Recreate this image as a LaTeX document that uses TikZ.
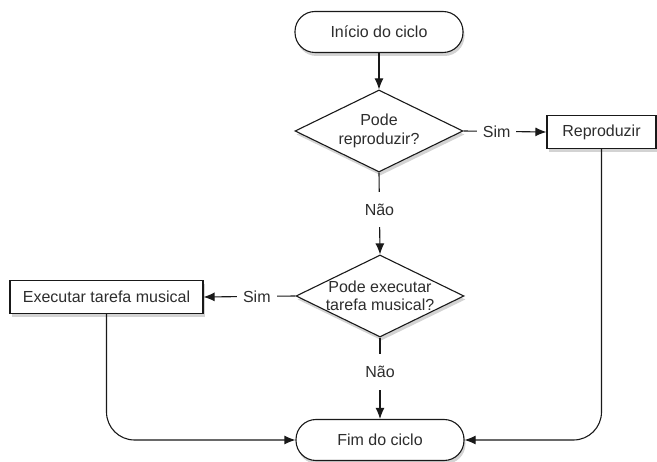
\documentclass[tikz,border=0pt]{standalone}
\usepackage{fontspec}
\setmainfont{Liberation Sans}
\usetikzlibrary{arrows.meta,shapes.geometric,shadows}
\definecolor{T}{RGB}{45, 45, 45}
\definecolor{L}{RGB}{25, 25, 25}
\tikzset{
  base/.style={draw=L, line width=1.1pt, fill=white, text=T,
    font=\fontsize{16}{18.5}\selectfont,
    drop shadow={opacity=0.35, shadow xshift=1.5pt, shadow yshift=-3.5pt}},
  term/.style={base, rectangle, rounded corners=20pt, minimum width=168pt, minimum height=41pt},
  proc/.style={base, rectangle, minimum height=33pt, inner xsep=10pt},
  decision/.style={base, diamond, aspect=2.05, inner sep=0pt, minimum width=168pt, minimum height=82pt},
  txt/.style={text=T, font=\fontsize{16}{18.5}\selectfont, align=center},
  lbl/.style={txt, fill=white, inner xsep=6pt, inner ysep=12pt},
  conn/.style={draw=L, line width=1.1pt, -{Latex[length=11pt, width=9pt]}}
}
\begin{document}
\begin{tikzpicture}[x=1pt, y=-1pt]
  \useasboundingbox (0,0) rectangle (657,462);
  % shapes
  \node[term] (inicio) at (379,32) {Início do ciclo};
  \node[decision] (pode1) at (379,131) {};
  \node[txt] at (pode1) {Pode\\reproduzir?};
  \node[proc, minimum width=109pt] (repro) at (601.5,132) {Reproduzir};
  \node[decision] (pode2) at (380,296) {};
  \node[txt] at (pode2) {Pode executar\\tarefa musical?};
  \node[proc, minimum width=193pt] (exec) at (106.5,297) {Executar tarefa musical};
  \node[term] (fim) at (380,440) {Fim do ciclo};
  % connectors
  \draw[conn] (inicio) -- (pode1);
  \draw[conn] (pode1.east) -- node[lbl, pos=0.4] {Sim} (repro.west);
  \draw[conn] (pode1.south) -- node[lbl, pos=0.45] {Não} (pode2.north);
  \draw[conn] (pode2.west) -- node[lbl, pos=0.42] {Sim} (exec.east);
  \draw[conn] (pode2.south) -- node[lbl, pos=0.42] {Não} (fim.north);
  \draw[conn, rounded corners=28pt] (exec.south) |- (fim.west);
  \draw[conn, rounded corners=28pt] (repro.south) |- (fim.east);
\end{tikzpicture}
\end{document}
